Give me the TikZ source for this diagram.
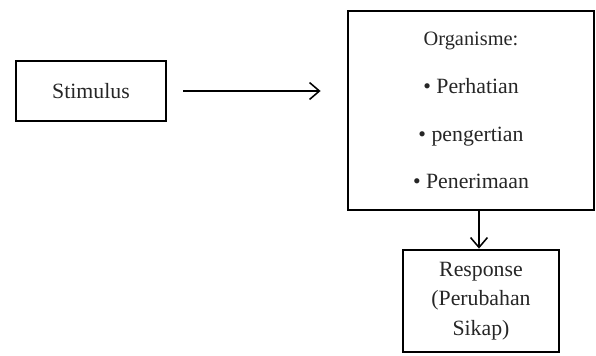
\documentclass[tikz,border=0pt]{standalone}
\usepackage{fontspec}
\setmainfont{Liberation Serif}
\usetikzlibrary{arrows.meta, positioning}

\begin{document}
\begin{tikzpicture}[
    every node/.style={font=\fontsize{15.5}{21}\selectfont, text=black!85},
    box/.style={rectangle, draw, line width=2pt, text centered, align=center},
    arr/.style={-{Straight Barb[length=7pt, width=12pt]}, line width=1.1pt},
]
\useasboundingbox (0,0) rectangle (14.9,-8.9);

\node[box, minimum width=3.75cm, minimum height=1.5cm] (stim) at (2.275,-2.275) {Stimulus};

\node[box, minimum width=6.15cm, minimum height=4.975cm,
      font=\fontsize{15.5}{34}\selectfont] (org) at (11.775,-2.7625)
    {{\fontsize{14.5}{34}\selectfont Organisme:}\\ \textbullet{} Perhatian\\ \textbullet{} pengertian\\ \textbullet{} Penerimaan};

\node[box, minimum width=3.9cm, minimum height=2.55cm] (resp) at (12.025,-7.525)
    {Response\\ (Perubahan\\ Sikap)};

% Arrows
\draw[arr, shorten <=0.4cm, shorten >=0.65cm] (stim.east) -- (stim.east -| org.west);
\draw[arr] ([xshift=-0.05cm]resp.north |- org.south) -- ([xshift=-0.05cm]resp.north);

\end{tikzpicture}
\end{document}
